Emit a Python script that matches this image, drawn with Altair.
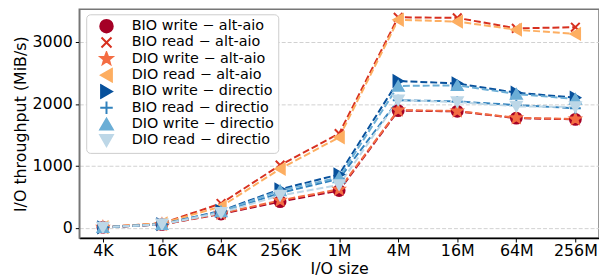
import math
import altair as alt
import pandas as pd

sizes = ["4K", "16K", "64K", "256K", "1M", "4M", "16M", "64M", "256M"]

series_names = [
    "BIO write − alt-aio",
    "BIO read − alt-aio",
    "DIO write − alt-aio",
    "DIO read − alt-aio",
    "BIO write − directio",
    "BIO read − directio",
    "DIO write − directio",
    "DIO read − directio",
]

bio_write_altaio = [5, 50, 220, 420, 600, 1890, 1880, 1770, 1750]
bio_read_altaio = [10, 70, 390, 1010, 1520, 3400, 3390, 3220, 3240]
dio_write_altaio = [5, 50, 230, 440, 620, 1900, 1885, 1775, 1755]
dio_read_altaio = [10, 70, 340, 950, 1460, 3360, 3330, 3200, 3130]
bio_write_directio = [5, 55, 270, 620, 860, 2370, 2330, 2180, 2100]
bio_read_directio = [5, 55, 250, 560, 790, 2060, 2040, 1980, 1930]
dio_write_directio = [5, 55, 260, 600, 810, 2290, 2300, 2160, 2080]
dio_read_directio = [5, 55, 240, 520, 690, 2060, 2030, 1960, 1950]

all_values = [
    bio_write_altaio, bio_read_altaio, dio_write_altaio, dio_read_altaio,
    bio_write_directio, bio_read_directio, dio_write_directio, dio_read_directio,
]

colors = ["#a50026", "#d7301f", "#f46d43", "#fdae61",
          "#08519c", "#3182bd", "#6baed6", "#bdd7e7"]

# marker shapes
star_pts = []
for k in range(10):
    r = 1.0 if k % 2 == 0 else 0.42
    a = -math.pi / 2 + k * math.pi / 5
    star_pts.append(f"{r*math.cos(a):.3f},{r*math.sin(a):.3f}")
star = "M" + "L".join(star_pts) + "Z"
xmark = "M-0.8,-0.8L0.8,0.8M-0.8,0.8L0.8,-0.8"
plus = "M-1,0L1,0M0,-1L0,1"
shapes = ["circle", xmark, star, "triangle-left", "triangle-right", plus,
          "triangle-up", "triangle-down"]

rows = []
for i, (name, vals) in enumerate(zip(series_names, all_values)):
    for s, v in zip(sizes, vals):
        rows.append({"series": name, "order": i, "size": s, "value": v})
df = pd.DataFrame(rows)

font = "DejaVu Sans"

x_enc = alt.X(
    "size:O", sort=sizes,
    scale=alt.Scale(type="point", padding=0.4),
    axis=alt.Axis(title="I/O size", labelAngle=0, grid=False, domainColor="black",
                  domainWidth=1.5, tickColor="black", tickSize=4, labelFontSize=16,
                  titleFontSize=16, labelPadding=1, titlePadding=2),
)
y_enc = alt.Y(
    "value:Q",
    scale=alt.Scale(domain=[-168, 3528], nice=False, zero=False),
    axis=alt.Axis(title="I/O throughput (MiB/s)", values=[0, 1000, 2000, 3000],
                  format="d",
                  grid=True, gridDash=[4, 2], gridColor="#d0d0d0", gridWidth=1,
                  domainColor="#777", domainWidth=1.5, tickColor="black", tickSize=4,
                  labelFontSize=16, titleFontSize=16, labelPadding=3, titlePadding=4),
)

color_scale = alt.Scale(domain=series_names, range=colors)
shape_scale = alt.Scale(domain=series_names, range=shapes)

leg = alt.Legend(title=None)

lines = alt.Chart(df).mark_line(strokeDash=[7, 3], strokeWidth=2).encode(
    x=x_enc, y=y_enc,
    stroke=alt.Stroke("series:N", scale=color_scale, legend=leg),
)

points = alt.Chart(df).mark_point(
    filled=True, size=120, strokeWidth=2, opacity=1
).encode(
    x=x_enc, y=y_enc,
    fill=alt.Fill("series:N", scale=color_scale, legend=leg),
    stroke=alt.Stroke("series:N", scale=color_scale, legend=leg),
    shape=alt.Shape("series:N", scale=shape_scale, legend=leg),
    order=alt.Order("order:Q"),
)

chart = alt.layer(lines, points).properties(
    width=525, height=231,
    autosize=alt.AutoSizeParams(type="none"),
    padding={"left": 72, "top": 0, "right": 0, "bottom": 38},
).configure(font=font).configure_view(
    stroke="#777", strokeWidth=1.5
).configure_axis(
    labelColor="black", titleColor="black", titleFontWeight="normal",
    labelFont=font, titleFont=font
).configure_legend(
    orient="none", legendX=7, legendY=5,
    fillColor="white", strokeColor="#cccccc", cornerRadius=4, padding=4,
    labelFontSize=14.5, labelFont=font, labelColor="black",
    symbolSize=160, symbolStrokeWidth=2, symbolOffset=9, labelOffset=18,
    rowPadding=0.5, clipHeight=16,
)

chart.save("out.html", embed_options={"renderer": "svg", "actions": False})
